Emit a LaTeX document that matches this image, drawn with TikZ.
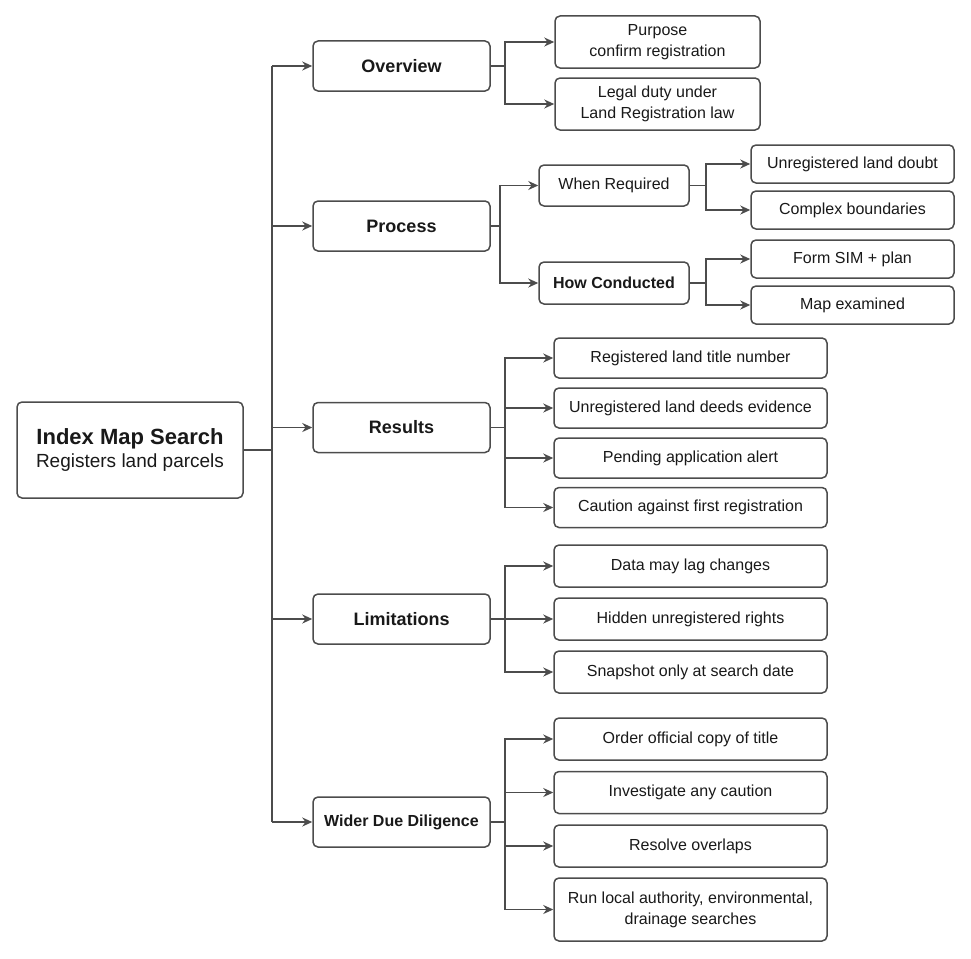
\documentclass[tikz,border=0pt]{standalone}
\usepackage{fontspec}
\setmainfont{Liberation Sans}
\usetikzlibrary{arrows.meta}
\begin{document}
\begin{tikzpicture}[x=1pt,y=-1pt,
 box/.style={draw=black!70,line width=1.5pt,rounded corners=5pt,fill=white,align=center,inner sep=0pt,font=\fontsize{16}{21}\selectfont,text=black!90},
 l1/.style={box,minimum width=177pt,minimum height=50pt,font=\fontsize{18}{22}\selectfont\bfseries},
 edge/.style={draw=black!70,line width=1.5pt,-{Stealth[length=10pt,width=9pt]}},
 ln/.style={draw=black!70,line width=1.5pt}]
\useasboundingbox (0,0) rectangle (971,958);
\node[box,minimum width=226pt,minimum height=96pt] (root) at (130,450) {{\fontsize{22}{26}\selectfont\bfseries Index Map Search}\\[2pt]{\fontsize{19}{23}\selectfont Registers land parcels}};
\node[l1] (ov) at (401.5,66) {Overview};
\node[l1] (pr) at (401.5,226) {Process};
\node[l1] (re) at (401.5,427.5) {Results};
\node[l1] (li) at (401.5,619) {Limitations};
\node[l1,font=\fontsize{16}{20}\selectfont\bfseries] (wd) at (401.5,822) {Wider Due Diligence};
\node[box,minimum width=205pt,minimum height=52pt] (o1) at (657.5,42) {Purpose\\confirm registration};
\node[box,minimum width=205pt,minimum height=52pt] (o2) at (657.5,104) {Legal duty under\\Land Registration law};
\node[box,minimum width=150pt,minimum height=41pt] (wr) at (614,185.5) {When Required};
\node[box,minimum width=150pt,minimum height=42pt,font=\fontsize{16}{20}\selectfont\bfseries] (hc) at (614,283) {How Conducted};
\node[box,minimum width=203pt,minimum height=38pt] (w1) at (852.5,164) {Unregistered land doubt};
\node[box,minimum width=203pt,minimum height=38pt] (w2) at (852.5,210) {Complex boundaries};
\node[box,minimum width=203pt,minimum height=38pt] (h1) at (852.5,259) {Form SIM + plan};
\node[box,minimum width=203pt,minimum height=38pt] (h2) at (852.5,305) {Map examined};
\foreach \n/\y/\t in {r1/358/Registered land title number,r2/408/Unregistered land deeds evidence,r3/458/Pending application alert,r4/507.5/Caution against first registration}
 \node[box,minimum width=273pt,minimum height=40pt] (\n) at (690.5,\y) {\t};
\foreach \n/\y/\t in {m1/566/Data may lag changes,m2/619/Hidden unregistered rights,m3/672/Snapshot only at search date}
 \node[box,minimum width=273pt,minimum height=42pt] (\n) at (690.5,\y) {\t};
\foreach \n/\y/\t in {d1/739/Order official copy of title,d2/792.5/Investigate any caution,d3/846/Resolve overlaps}
 \node[box,minimum width=273pt,minimum height=42pt] (\n) at (690.5,\y) {\t};
\node[box,minimum width=273pt,minimum height=63pt] (d4) at (690.5,909.5) {Run local authority, environmental,\\drainage searches};
\coordinate (tx) at (272,0);
\coordinate (ob) at (505,0);
\coordinate (pb) at (500,0);
\coordinate (wb) at (706,0);
\coordinate (rb) at (505,0);
\draw[ln] (root.east) -- (root.east -| tx);
\draw[ln] (tx |- ov.west) -- (tx |- wd.west);
\foreach \n in {ov,pr,re,li,wd} \draw[edge] (tx |- \n.west) -- (\n.west);
\draw[ln] (ov.east) -- (ov.east -| ob);
\draw[edge] (ob |- ov.east) |- (o1.west);
\draw[edge] (ob |- ov.east) |- (o2.west);
\draw[ln] (pr.east) -- (pr.east -| pb);
\draw[edge] (pb |- pr.east) |- (wr.west);
\draw[edge] (pb |- pr.east) |- (hc.west);
\draw[ln] (wr.east) -- (wr.east -| wb);
\draw[edge] (wb |- wr.east) |- (w1.west);
\draw[edge] (wb |- wr.east) |- (w2.west);
\draw[ln] (hc.east) -- (hc.east -| wb);
\draw[edge] (wb |- hc.east) |- (h1.west);
\draw[edge] (wb |- hc.east) |- (h2.west);
\draw[ln] (re.east) -- (re.east -| rb);
\foreach \n in {r1,r2,r3,r4} \draw[edge] (rb |- re.east) |- (\n.west);
\draw[ln] (li.east) -- (li.east -| rb);
\foreach \n in {m1,m2,m3} \draw[edge] (rb |- li.east) |- (\n.west);
\draw[ln] (wd.east) -- (wd.east -| rb);
\foreach \n in {d1,d2,d3,d4} \draw[edge] (rb |- wd.east) |- (\n.west);
\end{tikzpicture}
\end{document}
